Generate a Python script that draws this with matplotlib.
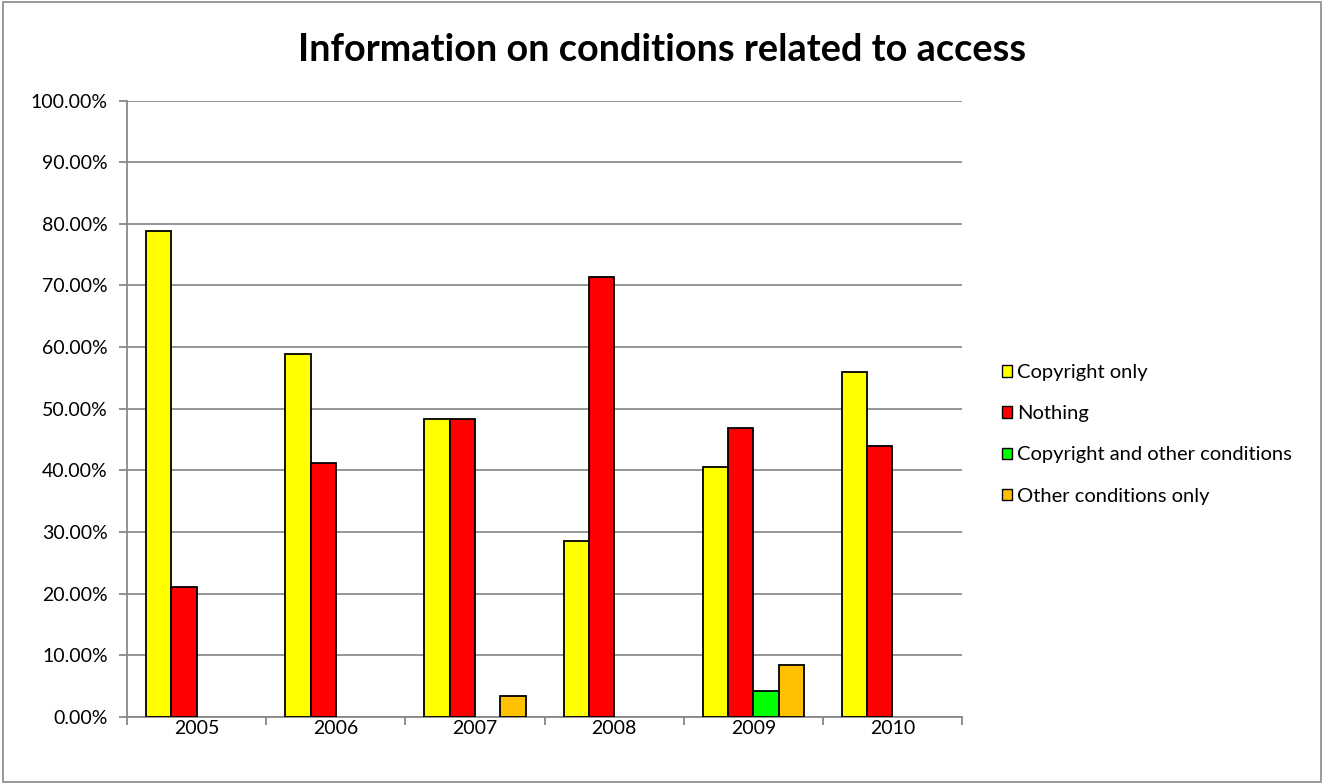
import numpy as np
import matplotlib.pyplot as plt
from matplotlib.patches import Rectangle

plt.rcParams['font.family'] = ['Lato', 'DejaVu Sans']

years = ['2005', '2006', '2007', '2008', '2009', '2010']
series_names = ['Copyright only', 'Nothing', 'Copyright and other conditions', 'Other conditions only']
copyright_only = [78.9, 58.8, 48.3, 28.6, 40.6, 56.0]
nothing = [21.1, 41.2, 48.3, 71.4, 46.9, 44.0]
copyright_other = [0, 0, 0, 0, 4.1, 0]
other_only = [0, 0, 3.4, 0, 8.4, 0]
colors = ['#FFFF00', '#FF0000', '#00FF00', '#FFC000']

fig = plt.figure(figsize=(13.24, 7.84), dpi=100)
ax = fig.add_axes([0.096, 0.0858, 0.6306, 0.7858])

# outer chart frame
fig.patches.append(Rectangle((0.002, 0.002), 0.996, 0.996, transform=fig.transFigure,
                             fill=False, edgecolor='#888888', lw=1.2))

x = np.arange(len(years))
w = 1 / 5.5
data = [copyright_only, nothing, copyright_other, other_only]
for i, (vals, c) in enumerate(zip(data, colors)):
    vals = np.array(vals)
    xs = x + (i - 1.5) * w
    mask = vals > 0
    ax.bar(xs[mask], vals[mask], width=w, color=c, edgecolor='black', lw=1.3, zorder=3)

ax.set_xlim(-0.5, len(years) - 0.5)
ax.set_ylim(0, 100)
ax.set_yticks(np.arange(0, 101, 10))
ax.set_yticklabels([f'{v:.2f}%' for v in np.arange(0, 101, 10)], fontsize=14)
ax.set_xticks(x)
ax.set_xticklabels(years, fontsize=14)
ax.set_xticks(np.arange(-0.5, len(years)), minor=True)
ax.tick_params(axis='x', which='major', length=0, pad=2)
ax.tick_params(axis='x', which='minor', length=6, color='#888888', width=1.3)
ax.tick_params(axis='y', length=6, color='#888888', width=1.3, pad=8)
ax.yaxis.grid(True, color='#8c8c8c', lw=1.3, zorder=0)
for s in ['top', 'right']:
    ax.spines[s].set_visible(False)
for s in ['left', 'bottom']:
    ax.spines[s].set_color('#888888')
    ax.spines[s].set_linewidth(1.3)

fig.text(0.5, 0.936, 'Information on conditions related to access', ha='center', va='center',
         fontsize=27.3, fontweight='bold')

handles = [Rectangle((0, 0), 1, 1, facecolor=c, edgecolor='black', lw=1) for c in colors]
fig.legend(handles, series_names, loc='center left', bbox_to_anchor=(0.743, 0.446),
           frameon=False, fontsize=14.5, handlelength=0.5, handleheight=0.5,
           handletextpad=0.25, labelspacing=1.2)

fig.savefig('out.png', dpi=100)
